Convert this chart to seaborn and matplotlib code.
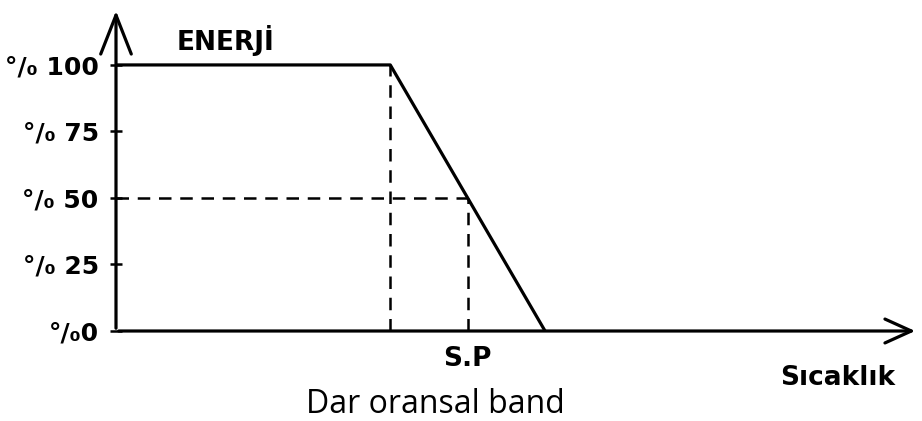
import matplotlib
matplotlib.use("Agg")
import matplotlib.pyplot as plt
import seaborn as sns
import pandas as pd

# Dar oransal band: enerji / sicaklik egrisi
temps = [0, 34.2, 53.5]          # sicaklik (keyfi birim)
energy = [100, 100, 0]           # enerji yuzdesi
band_start = 34.2
set_point = 43.85
y_ticks = [0, 25, 50, 75, 100]
y_labels = ["°/₀0", "°/₀ 25", "°/₀ 50", "°/₀ 75", "°/₀ 100"]

df = pd.DataFrame({"Sicaklik": temps, "Enerji": energy})

sns.set_style("white")
plt.rcParams["font.family"] = ["DejaVu Sans"]
plt.rcParams.update({"text.color": "black", "xtick.color": "black",
                     "ytick.color": "black", "axes.labelcolor": "black"})

fig = plt.figure(figsize=(9.22, 4.21), dpi=100)
ax = fig.add_axes([116 / 922, 90 / 421, 802 / 922, 323 / 421])

sns.lineplot(data=df, x="Sicaklik", y="Enerji", color="black", lw=2.3, ax=ax)

# kesikli yardimci cizgiler
dash = dict(color="black", lw=1.8, ls=(0, (5, 3.5)))
ax.plot([band_start, band_start], [0, 100], **dash)
ax.plot([set_point, set_point], [0, 50], **dash)
ax.plot([0, set_point], [50, 50], **dash)

ax.set_xlim(0, 100)
ax.set_ylim(0, 121.4)

for s in ax.spines.values():
    s.set_visible(False)

# eksen oklari
ax.annotate("", xy=(1, 0), xytext=(0, 0), xycoords="axes fraction",
            arrowprops=dict(arrowstyle="->,head_length=1.9,head_width=0.86",
                            lw=2.3, color="black", mutation_scale=10),
            annotation_clip=False)
ax.annotate("", xy=(0, 1), xytext=(0, 0), xycoords="axes fraction",
            arrowprops=dict(arrowstyle="->,head_length=2.8,head_width=1.1",
                            lw=2.3, color="black", mutation_scale=10),
            annotation_clip=False)

ax.set_yticks(y_ticks)
ax.set_yticklabels(y_labels, fontsize=18, fontweight="bold")
ax.tick_params(axis="y", direction="inout", length=9, width=1.8, pad=8, left=True)

ax.set_xticks([set_point])
ax.set_xticklabels(["S.P"], fontsize=19, fontweight="bold")
ax.tick_params(axis="x", length=0, pad=11)

ax.set_xlabel("")
ax.set_ylabel("")

ax.text(0.137, 0.870, "ENERJİ", transform=ax.transAxes, ha="center", va="baseline",
        fontsize=19, fontweight="bold")
ax.text(0.900, -0.167, "Sıcaklık", transform=ax.transAxes, ha="center", va="baseline",
        fontsize=19, fontweight="bold")
ax.text(0.398, -0.254, "Dar oransal band", transform=ax.transAxes, ha="center",
        va="baseline", fontsize=23, family=["Open Sans", "DejaVu Sans"])

fig.savefig("out.png", dpi=100)
plt.close(fig)
